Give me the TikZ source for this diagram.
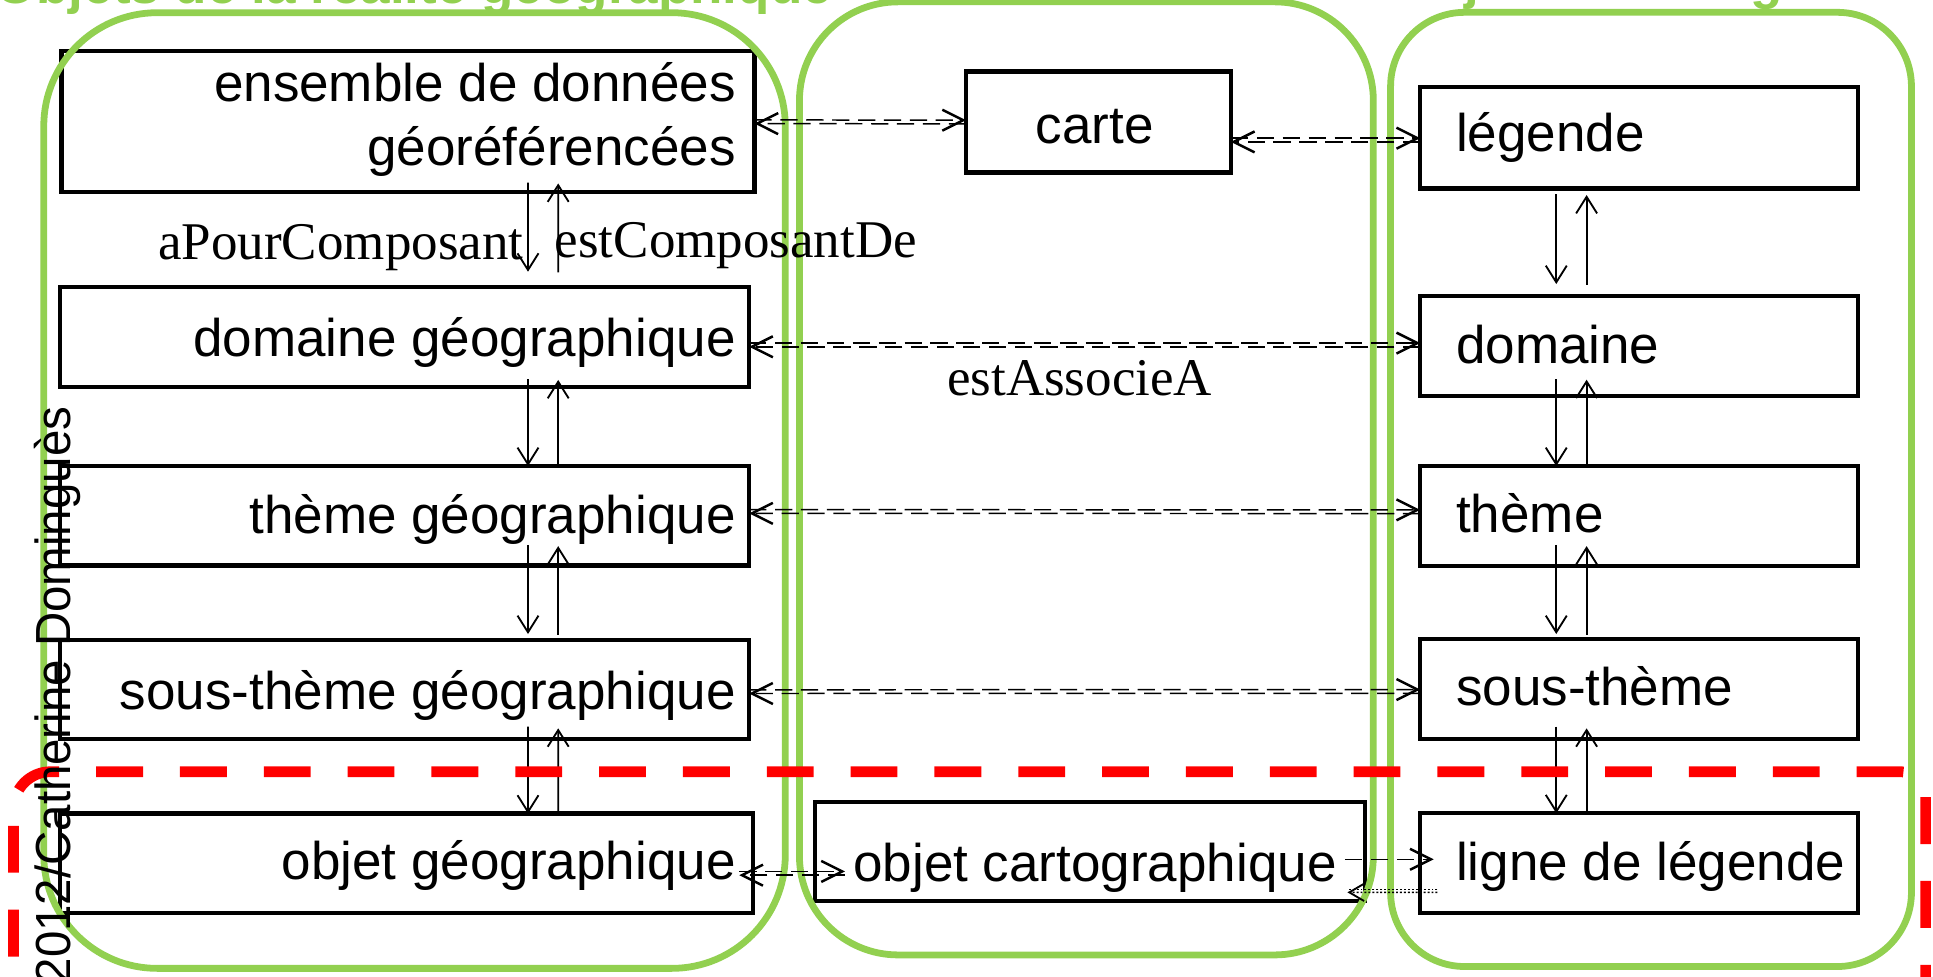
\documentclass[tikz,border=0pt]{standalone}
\usepackage{fontspec}
\setmainfont{Liberation Sans}
\newfontfamily\serifont{Liberation Serif}
\usetikzlibrary{arrows.meta,calc}
\definecolor{pgreen}{RGB}{146,208,80}
\begin{document}
\begin{tikzpicture}[x=1pt,y=-1pt,
  box/.style={draw, line width=3.5pt, fill=white, inner sep=0pt, outer sep=0pt},
  lbl/.style={font=\fontsize{43}{52}\selectfont, inner sep=0pt},
  slbl/.style={font=\serifont\fontsize{43}{52}\selectfont, inner sep=0pt},
  ttl/.style={font=\fontsize{43}{52}\selectfont\bfseries, text=pgreen, inner sep=0pt},
  grp/.style={draw=pgreen, line width=5.5pt},
  va/.style={line width=1.5pt, -{Straight Barb[length=13.5pt,width=17pt]}},
  ha/.style={line width=1.2pt, dash pattern=on 14pt off 7pt, -{Straight Barb[length=17pt,width=17pt,line width=2pt]}},
  da/.style={line width=1.1pt, dash pattern=on 1.6pt off 1.6pt},
  reddash/.style={draw=red, line width=8.7pt, dash pattern=on 38pt off 30pt}
]
\useasboundingbox (0,0) rectangle (1568,792.5);
\clip (0,0) rectangle (1568,792.5);

% titles (clipped at top)
\node[ttl, anchor=base west] (t1) at (-4,2.5) {Objets de la réalité géographique};
\node[ttl, anchor=base west] (t3) at (1128,-1.5) {Objets de la légende};

% boxes
\node[box, minimum width=562pt, minimum height=114.5pt] (ens) at (331,98.75) {};
\node[box, minimum width=559.2pt, minimum height=81pt] (dg) at (328.1,273.5) {};
\node[box, minimum width=559.2pt, minimum height=80.6pt] (tg) at (328.1,418.3) {};
\node[box, minimum width=559.2pt, minimum height=80.5pt] (sg) at (328.1,559.25) {};
\node[box, minimum width=562.3pt, minimum height=80.8pt] (og) at (329.65,700.4) {};
\node[box, minimum width=214.9pt, minimum height=82pt] (carte) at (891.05,99) {};
\node[box, minimum width=446.4pt, minimum height=80.7pt] (oc) at (884.2,690.65) {};
\node[box, minimum width=355pt, minimum height=82pt] (leg) at (1329.5,111.8) {};
\node[box, minimum width=355pt, minimum height=81.2pt] (dom) at (1329.5,280.6) {};
\node[box, minimum width=355pt, minimum height=81pt] (th) at (1329.5,418.5) {};
\node[box, minimum width=355pt, minimum height=80.9pt] (st) at (1329.5,559.05) {};
\node[box, minimum width=355pt, minimum height=81.1pt] (ll) at (1329.5,700.25) {};

% green groups
\draw[grp, rounded corners=92pt] (35.5,10.3) rectangle (637,785.5);
\draw[grp, rounded corners=80pt] (648.5,1.5) rectangle (1114,774.6);
\draw[grp, rounded corners=60pt] (1128,10) rectangle (1550.5,784);

% box texts
\node[lbl, anchor=base east] (enst1) at (597,82.5) {ensemble de données};
\node[lbl, anchor=base east] (enst2) at (597,134.4) {géoréférencées};
\node[lbl, anchor=base east] (dgt) at (597,288.8) {domaine géographique};
\node[lbl, anchor=base east] (tgt) at (597,432.6) {thème géographique};
\node[lbl, anchor=base east] (sgt) at (597,575.4) {sous-thème géographique};
\node[lbl, anchor=base east] (ogt) at (597,713.8) {objet géographique};
\node[lbl, anchor=base] (cartet) at (888,116.8) {carte};
\node[lbl, anchor=base west] (oct) at (692,715) {objet cartographique};
\node[lbl, anchor=base west] (legt) at (1181,123) {légende};
\node[lbl, anchor=base west] (domt) at (1181,294.7) {domaine};
\node[lbl, anchor=base west] (tht) at (1181,432) {thème};
\node[lbl, anchor=base west] (stt) at (1181,571.9) {sous-thème};
\node[lbl, anchor=base west] (llt) at (1181,714.4) {ligne de légende};

% vertical arrows, left column
\draw[va] ([xshift=378.3pt,yshift=7.8pt]ens.south west) -- ([xshift=379.8pt,yshift=12.6pt]dg.north west);
\draw[va] ([xshift=404.3pt,yshift=12pt]dg.north west) -- ([xshift=402.8pt,yshift=7.2pt]ens.south west);
\draw[va] ([xshift=379.8pt,yshift=6.3pt]dg.south west) -- ([xshift=379.8pt]tg.north west);
\draw[va] ([xshift=404.3pt]tg.north west) -- ([xshift=404.3pt,yshift=5.8pt]dg.south west);
\draw[va] ([xshift=379.8pt,yshift=16.6pt]tg.south west) -- ([xshift=379.8pt,yshift=4.7pt]sg.north west);
\draw[va] ([xshift=404.3pt,yshift=4pt]sg.north west) -- ([xshift=404.3pt,yshift=15.6pt]tg.south west);
\draw[va] ([xshift=379.8pt,yshift=10pt]sg.south west) -- ([xshift=379.8pt]og.north west);
\draw[va] ([xshift=404.3pt]og.north west) -- ([xshift=404.3pt,yshift=8.7pt]sg.south west);

% vertical arrows, right column
\draw[va] ([xshift=110.4pt,yshift=-4.6pt]leg.south west) -- ([xshift=110.4pt,yshift=9.6pt]dom.north west);
\draw[va] ([xshift=135pt,yshift=9pt]dom.north west) -- ([xshift=135pt,yshift=-5.4pt]leg.south west);
\draw[va] ([xshift=110.4pt,yshift=13.5pt]dom.south west) -- ([xshift=110.4pt]th.north west);
\draw[va] ([xshift=135pt]th.north west) -- ([xshift=135pt,yshift=13.2pt]dom.south west);
\draw[va] ([xshift=110.4pt,yshift=17pt]th.south west) -- ([xshift=110.4pt,yshift=4.3pt]st.north west);
\draw[va] ([xshift=135pt,yshift=3.6pt]st.north west) -- ([xshift=135pt,yshift=16pt]th.south west);
\draw[va] ([xshift=110.4pt,yshift=10pt]st.south west) -- ([xshift=110.4pt]ll.north west);
\draw[va] ([xshift=135pt]ll.north west) -- ([xshift=135pt,yshift=8.7pt]st.south west);

% horizontal dashed arrows
\draw[ha] ($(ens.east)+(0,-1.5)$) -- ($(carte.west)+(0,-1.5)$);
\draw[ha] ($(carte.west)+(0,1.5)$) -- ($(ens.east)+(0,1.5)$);
\draw[ha] ($(carte.east |- leg.west)+(0,0.3)$) -- ($(leg.west)+(0,0.3)$);
\draw[ha] ($(leg.west)+(0,3.3)$) -- ($(carte.east |- leg.west)+(0,3.3)$);
\draw[ha] ($(dg.east |- dom.west)+(0,-2.3)$) -- ($(dom.west)+(0,-2.3)$);
\draw[ha] ($(dom.west)+(0,0.7)$) -- ($(dg.east |- dom.west)+(0,0.7)$);
\draw[ha] ($(tg.east)+(0,-4.9)$) -- ($(th.west)+(0,-4.9)$);
\draw[ha] ($(th.west)+(0,-1.9)$) -- ($(tg.east)+(0,-1.9)$);
\draw[ha] ($(sg.east)+(0,0.3)$) -- ($(st.west)+(0,0.3)$);
\draw[ha] ($(st.west)+(0,3.3)$) -- ($(sg.east)+(0,3.3)$);
\draw[ha] ($(og.east)+(-11.1,6.5)$) -- ($(oc.west |- og.east)+(24.4,6.5)$);
\draw[ha] ($(oc.west |- og.east)+(24.4,9.5)$) -- ($(og.east)+(-11.1,9.5)$);
\draw[ha] ($(oc.east)+(-16.4,6.35)$) -- ($(ll.west)+(11,-3.25)$);
\draw[da] ($(ll.west)+(14,21.5)$) -- ($(oc.east)+(-13,31.1)$);
\draw[da, -{Straight Barb[length=12pt,width=14pt,line width=1.5pt]}] ($(ll.west)+(14,23.6)$) -- ($(oc.east)+(-14.4,33.2)$);

% relation labels
\node[slbl, anchor=base east] (apc) at (424.8,210.9) {aPourComposant};
\node[slbl, anchor=base west] (ecd) at (449.8,209) {estComposantDe};
\node[slbl, anchor=base east] (eaa) at (983.5,321.2) {estAssocieA};

% red dashed frame
\draw[reddash, rounded corners=20pt] (78,626) -- (1562,626) -- (1562,900);
\draw[reddash, dash phase=38pt, rounded corners=30pt] (78,626) -- (11,626) -- (11,900);

% author
\node[font=\fontsize{40}{48}\selectfont, rotate=90, anchor=base west, inner sep=0pt] (auth) at (57.3,798.6) {\scalebox{0.962}[1]{2012/Catherine Dominguès}};
\end{tikzpicture}
\end{document}
